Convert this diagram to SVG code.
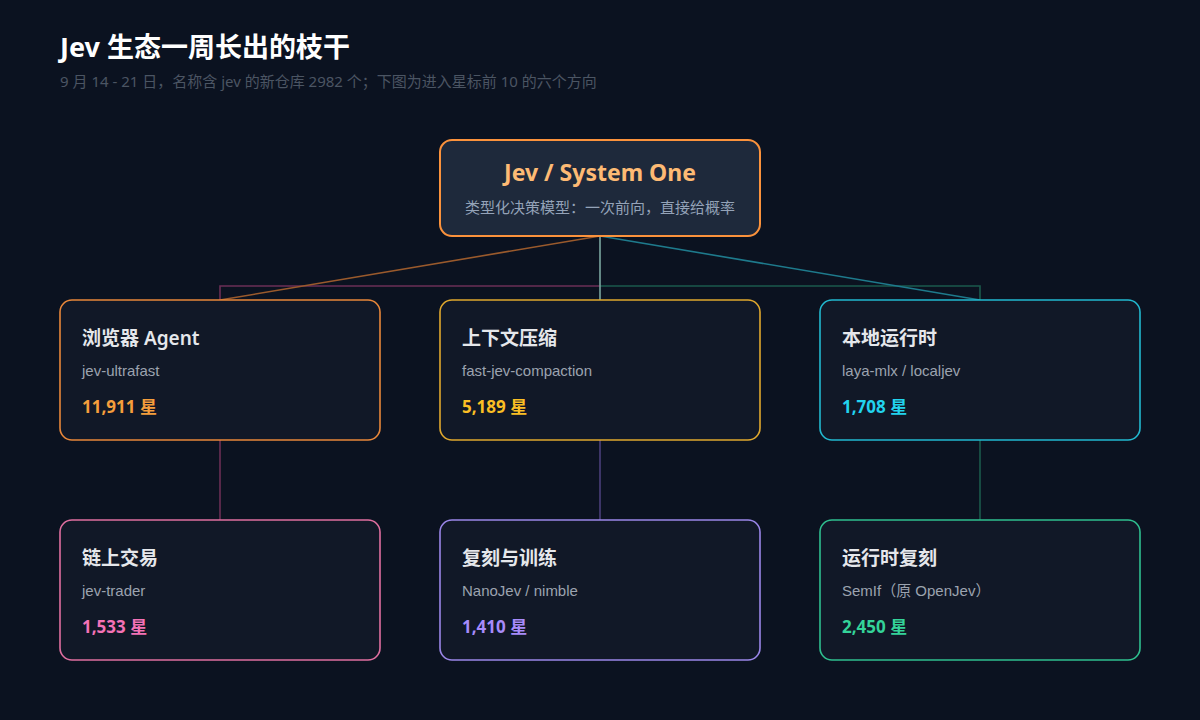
<svg xmlns="http://www.w3.org/2000/svg" width="1200" height="720" viewBox="0 0 1200 720">
<style>
text{font-family:"Noto Sans","Noto Sans CJK SC",sans-serif}
.card{fill:#111827;stroke-width:1.6}
.t{font-size:19px;font-weight:600;fill:#e5e7eb}
.s{font-size:15px;fill:#9ca3af;font-family:"Liberation Sans","Noto Sans CJK SC",sans-serif}
.n{font-size:17px;font-weight:700}
.c{fill:none;stroke-width:1.6}
</style>
<rect width="1200" height="720" fill="#0b1220"/>
<text x="60" y="57" font-size="27" font-weight="700" fill="#ffffff">Jev 生态一周长出的枝干</text>
<text x="60" y="87" font-size="15" fill="#4b5563">9 月 14 - 21 日，名称含 jev 的新仓库 2982 个；下图为进入星标前 10 的六个方向</text>
<g id="connectors">
<polyline class="c" points="220,300 220,286 600,286" stroke="#6b2f55"/>
<polyline class="c" points="600,286 980,286 980,300" stroke="#1b5a4c"/>
<line class="c" x1="600" y1="236" x2="600" y2="300" stroke="#7aa7a0"/>
<line class="c" x1="600" y1="236" x2="220" y2="300" stroke="#9a5a2c"/>
<line class="c" x1="600" y1="236" x2="980" y2="300" stroke="#1e7a8c"/>
<line class="c" x1="220" y1="440" x2="220" y2="520" stroke="#6b2f55"/>
<line class="c" x1="600" y1="440" x2="600" y2="520" stroke="#4a3f7a"/>
<line class="c" x1="980" y1="440" x2="980" y2="520" stroke="#1b5a4c"/>
</g>
<g id="root">
<rect x="440" y="140" width="320" height="96" rx="12" fill="#1e293b" stroke="#fb923c" stroke-width="2"/>
<text x="600" y="181" text-anchor="middle" font-size="23" font-weight="700" fill="#fdba74">Jev / System One</text>
<text x="600" y="213" text-anchor="middle" font-size="15" fill="#94a3b8">类型化决策模型：一次前向，直接给概率</text>
</g>
<g id="browser">
<rect class="card" x="60" y="300" width="320" height="140" rx="12" stroke="#e8873a"/>
<text class="t" x="82" y="345">浏览器 Agent</text><text class="s" x="82" y="376">jev-ultrafast</text>
<text class="n" x="82" y="413" fill="#f59e3c">11,911 星</text>
</g>
<g id="context">
<rect class="card" x="440" y="300" width="320" height="140" rx="12" stroke="#e0a82e"/>
<text class="t" x="462" y="345">上下文压缩</text><text class="s" x="462" y="376">fast-jev-compaction</text>
<text class="n" x="462" y="413" fill="#fbbf24">5,189 星</text>
</g>
<g id="local">
<rect class="card" x="820" y="300" width="320" height="140" rx="12" stroke="#22b8cf"/>
<text class="t" x="842" y="345">本地运行时</text><text class="s" x="842" y="376">laya-mlx / localjev</text>
<text class="n" x="842" y="413" fill="#22d3ee">1,708 星</text>
</g>
<g id="trade">
<rect class="card" x="60" y="520" width="320" height="140" rx="12" stroke="#e06fa0"/>
<text class="t" x="82" y="565">链上交易</text><text class="s" x="82" y="596">jev-trader</text>
<text class="n" x="82" y="633" fill="#f472b6">1,533 星</text>
</g>
<g id="replica">
<rect class="card" x="440" y="520" width="320" height="140" rx="12" stroke="#9a86e8"/>
<text class="t" x="462" y="565">复刻与训练</text><text class="s" x="462" y="596">NanoJev / nimble</text>
<text class="n" x="462" y="633" fill="#a78bfa">1,410 星</text>
</g>
<g id="runtime">
<rect class="card" x="820" y="520" width="320" height="140" rx="12" stroke="#2fbf8f"/>
<text class="t" x="842" y="565">运行时复刻</text><text class="s" x="842" y="596">SemIf（原 OpenJev）</text>
<text class="n" x="842" y="633" fill="#34d399">2,450 星</text>
</g>
</svg>
